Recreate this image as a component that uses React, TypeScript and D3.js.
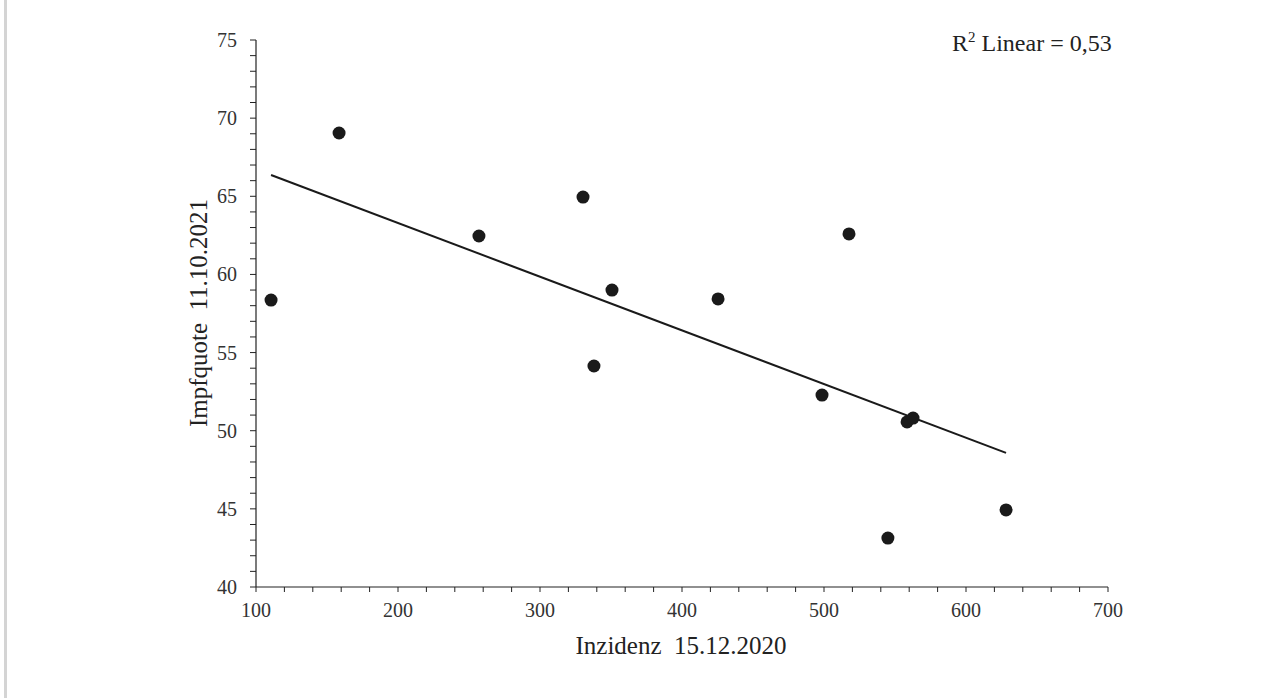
import React, { useEffect, useRef } from "react";
import * as d3 from "d3";

// Inzidenz 15.12.2020 (x) vs. Impfquote 11.10.2021 (y)
const inzidenz = [110.6, 158.5, 257, 330.3, 338, 350.7, 425.4, 498.6, 517.6, 545, 558.5, 562.7, 628.2];
const impfquote = [58.36, 69.05, 62.46, 64.95, 54.14, 59.0, 58.43, 52.28, 62.59, 43.13, 50.56, 50.81, 44.93];

const xTicks = [100, 200, 300, 400, 500, 600, 700];
const yTicks = [40, 45, 50, 55, 60, 65, 70, 75];

const xLabel = "Inzidenz  15.12.2020";
const yLabel = "Impfquote  11.10.2021";
const r2Label = "0,53";

const W = 1285;
const H = 698;
const FONT = "Liberation Serif";

export default function App() {
  const ref = useRef<SVGSVGElement | null>(null);

  useEffect(() => {
    const svg = d3.select(ref.current);
    svg.selectAll("*").remove();

    const x = d3.scaleLinear().domain([100, 700]).range([256, 1108]);
    const y = d3.scaleLinear().domain([40, 75]).range([587, 40]);

    // left page border
    svg.append("rect").attr("x", 4).attr("y", 0).attr("width", 3).attr("height", H).attr("fill", "#d4d4d4");

    // minor ticks
    const xMinor = d3.range(100, 701, 20);
    const yMinor = d3.range(40, 75.01, 1);

    const xAxis = svg.append("g").attr("transform", `translate(0,${y(40)})`);
    xAxis.append("line").attr("x1", x(100)).attr("x2", x(700)).attr("stroke", "#222").attr("stroke-width", 1.2);
    xAxis.selectAll("line.t").data(xMinor).enter().append("line")
      .attr("class", "t")
      .attr("x1", d => x(d)).attr("x2", d => x(d))
      .attr("y1", 0).attr("y2", 5)
      .attr("stroke", "#222");
    xAxis.selectAll("text").data(xTicks).enter().append("text")
      .attr("x", d => x(d)).attr("y", 30)
      .attr("text-anchor", "middle")
      .style("font-family", FONT).style("font-size", "20px").attr("fill", "#333")
      .text(d => d);

    const yAxis = svg.append("g").attr("transform", `translate(${x(100)},0)`);
    yAxis.append("line").attr("y1", y(40)).attr("y2", y(75)).attr("stroke", "#222").attr("stroke-width", 1.2);
    yAxis.selectAll("line.t").data(yMinor).enter().append("line")
      .attr("class", "t")
      .attr("y1", d => y(d)).attr("y2", d => y(d))
      .attr("x1", 0).attr("x2", -6)
      .attr("stroke", "#222");
    yAxis.selectAll("text").data(yTicks).enter().append("text")
      .attr("x", -19).attr("y", d => y(d) + 7)
      .attr("text-anchor", "end")
      .style("font-family", FONT).style("font-size", "20px").attr("fill", "#333")
      .text(d => d);

    // regression line (least squares)
    const mx = d3.mean(inzidenz)!;
    const my = d3.mean(impfquote)!;
    let sxy = 0, sxx = 0;
    inzidenz.forEach((v, i) => {
      sxy += (v - mx) * (impfquote[i] - my);
      sxx += (v - mx) * (v - mx);
    });
    const b = sxy / sxx;
    const a = my - b * mx;
    const [x0, x1] = d3.extent(inzidenz) as [number, number];
    svg.append("line")
      .attr("x1", x(x0)).attr("y1", y(a + b * x0))
      .attr("x2", x(x1)).attr("y2", y(a + b * x1))
      .attr("stroke", "#1a1a1a").attr("stroke-width", 2);

    // points
    svg.selectAll("circle").data(inzidenz).enter().append("circle")
      .attr("cx", d => x(d))
      .attr("cy", (d, i) => y(impfquote[i]))
      .attr("r", 6.5)
      .attr("fill", "#1a1a1a");

    // axis titles
    svg.append("text")
      .attr("x", 681).attr("y", 654)
      .attr("text-anchor", "middle")
      .style("font-family", FONT).style("font-size", "25px").attr("fill", "#222")
      .style("white-space", "pre")
      .text(xLabel);

    svg.append("text")
      .attr("transform", `translate(207,313) rotate(-90)`)
      .attr("text-anchor", "middle")
      .style("font-family", FONT).style("font-size", "25px").attr("fill", "#222")
      .style("white-space", "pre")
      .text(yLabel);

    // R² label
    const r2 = svg.append("text")
      .attr("x", 952).attr("y", 51)
      .style("font-family", FONT).style("font-size", "24px").attr("fill", "#222")
      .style("white-space", "pre");
    r2.append("tspan").text("R");
    r2.append("tspan").style("font-size", "15px").attr("dy", -9).text("2");
    r2.append("tspan").attr("dy", 9).text(` Linear = ${r2Label}`);
  }, []);

  return (
    <div style={{ position: "absolute", left: 0, top: 0, width: W, height: H, background: "#fff" }}>
      <svg ref={ref} width={W} height={H} style={{ display: "block" }} />
    </div>
  );
}
